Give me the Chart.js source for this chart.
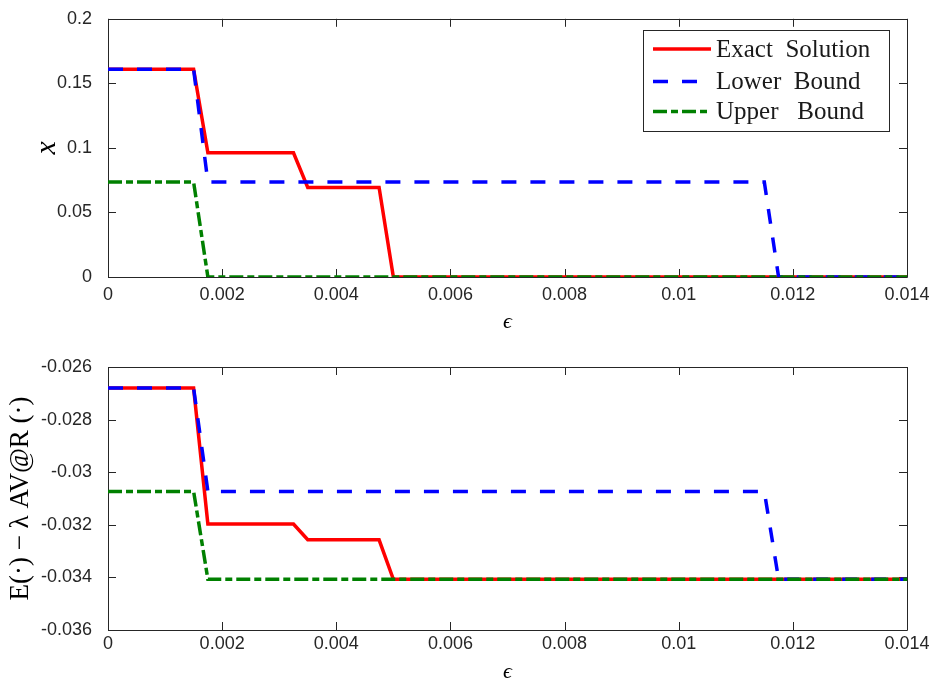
<!DOCTYPE html>
<html lang="en">
<head>
  <meta charset="UTF-8">
  <title>Exact solution and bounds vs epsilon</title>
  <script src="https://cdn.jsdelivr.net/npm/chart.js"></script>
  <style>
    body { margin: 0; background: #fff; }
    canvas { display: block; }
  </style>
</head>
<body>

<canvas id="xChart" width="937" height="342"></canvas>
<canvas id="objChart" width="937" height="342"></canvas>

<script>
// series names (legend)
const seriesNames = ['Exact  Solution', 'Lower  Bound', 'Upper   Bound'];

// epsilon breakpoints of each curve
const epsExact = [0, 0.0015, 0.00175, 0.00325, 0.0035, 0.00475, 0.005, 0.014];
const epsLower = [0, 0.0015, 0.00175, 0.0115, 0.01175, 0.014];
const epsUpper = [0, 0.0015, 0.00175, 0.014];

// top panel: x
const xExact = [0.161, 0.161, 0.0962, 0.0962, 0.0693, 0.0693, 0, 0];
const xLower = [0.161, 0.161, 0.0735, 0.0735, 0, 0];
const xUpper = [0.0735, 0.0735, 0, 0];

// bottom panel: E(.) - lambda AV@R(.)
const objExact = [-0.0268, -0.0268, -0.03197, -0.03197, -0.03257, -0.03257, -0.03407, -0.03407];
const objLower = [-0.0268, -0.0268, -0.03073, -0.03073, -0.03407, -0.03407];
const objUpper = [-0.03073, -0.03073, -0.03407, -0.03407];

// ticks
const epsTicks = [0, 0.002, 0.004, 0.006, 0.008, 0.01, 0.012, 0.014];
const epsTickLabels = ['0', '0.002', '0.004', '0.006', '0.008', '0.01', '0.012', '0.014'];
const xTicks = [0, 0.05, 0.1, 0.15, 0.2];
const xTickLabels = ['0', '0.05', '0.1', '0.15', '0.2'];
const objTicks = [-0.036, -0.034, -0.032, -0.03, -0.028, -0.026];
const objTickLabels = ['-0.036', '-0.034', '-0.032', '-0.03', '-0.028', '-0.026'];

const colors = ['#ff0000', '#0000ff', '#008000'];
const dashes = [[], [15, 14], [14, 4, 7, 4]];
const widths = [3.5, 3.5, 3.5];
const axisColor = '#262626';

function pts(xs, ys) {
  return xs.map((v, i) => ({ x: v, y: ys[i] }));
}

function makeDatasets(exact, lower, upper) {
  const sets = [pts(epsExact, exact), pts(epsLower, lower), pts(epsUpper, upper)];
  return sets.map((d, i) => ({
    label: seriesNames[i],
    data: d,
    borderColor: colors[i],
    borderWidth: widths[i],
    borderDash: dashes[i],
    showLine: true,
    pointRadius: 0,
    tension: 0,
    order: 3 - i   // red underneath, green on top
  }));
}

// MATLAB style box with inward ticks on all four sides
const boxPlugin = {
  id: 'matlabBox',
  beforeDatasetsDraw(chart) {
    const { ctx, chartArea: a, scales: { x, y } } = chart;
    const len = 8;
    ctx.save();
    ctx.strokeStyle = axisColor;
    ctx.lineWidth = 1;
    ctx.beginPath();
    ctx.rect(Math.round(a.left) + 0.5, Math.round(a.top) + 0.5,
             Math.round(a.width), Math.round(a.height));
    x.ticks.forEach(t => {
      const px = Math.round(x.getPixelForValue(t.value)) + 0.5;
      ctx.moveTo(px, a.bottom); ctx.lineTo(px, a.bottom - len);
      ctx.moveTo(px, a.top); ctx.lineTo(px, a.top + len);
    });
    y.ticks.forEach(t => {
      const py = Math.round(y.getPixelForValue(t.value)) + 0.5;
      ctx.moveTo(a.left, py); ctx.lineTo(a.left + len, py);
      ctx.moveTo(a.right, py); ctx.lineTo(a.right - len, py);
    });
    ctx.stroke();
    ctx.restore();
  }
};

// legend box in the top panel
const legendPlugin = {
  id: 'matlabLegend',
  afterDraw(chart) {
    if (!chart.options.plugins.matlabLegend) return;
    const ctx = chart.ctx;
    const bx = 643, by = 30, bw = 246, bh = 101;
    const rows = [49, 81.5, 111.5];
    ctx.save();
    ctx.fillStyle = '#fff';
    ctx.fillRect(bx, by, bw, bh);
    ctx.strokeStyle = axisColor;
    ctx.lineWidth = 1;
    ctx.strokeRect(bx + 0.5, by + 0.5, bw, bh);
    chart.data.datasets.forEach((ds, i) => {
      ctx.beginPath();
      ctx.strokeStyle = ds.borderColor;
      ctx.lineWidth = ds.borderWidth;
      ctx.setLineDash(ds.borderDash);
      ctx.moveTo(653, rows[i]);
      ctx.lineTo(711, rows[i]);
      ctx.stroke();
      ctx.setLineDash([]);
      ctx.fillStyle = '#1a1a1a';
      ctx.font = '25px "Liberation Serif", "Times New Roman", serif';
      ctx.textBaseline = 'middle';
      ctx.textAlign = 'left';
      ctx.fillText(ds.label, 716, rows[i] + 1);
    });
    ctx.restore();
  }
};

function makeChart(id, datasets, yMin, yMax, yTicks, yLabels, opts) {
  const tickFont = { family: '"Liberation Sans", Arial, sans-serif', size: 18 };
  return new Chart(document.getElementById(id), {
    type: 'scatter',
    data: { datasets: datasets },
    options: {
      responsive: false,
      animation: false,
      layout: { padding: { left: 0, right: 30, top: opts.top, bottom: 0 } },
      scales: {
        x: {
          type: 'linear',
          min: 0,
          max: 0.014,
          afterBuildTicks: s => { s.ticks = epsTicks.map(v => ({ value: v })); },
          afterFit: s => { s.height = opts.xHeight; },
          ticks: {
            autoSkip: false,
            maxRotation: 0,
            padding: opts.xTickPad,
            color: axisColor,
            font: tickFont,
            callback: (v, i) => epsTickLabels[i]
          },
          grid: { display: false },
          border: { display: false },
          title: {
            display: true,
            text: 'ϵ',
            color: '#000',
            font: { family: '"Liberation Serif", "DejaVu Serif", serif', style: 'italic', size: 22, lineHeight: 1 },
            padding: { top: 0, bottom: opts.xTitlePad }
          }
        },
        y: {
          type: 'linear',
          min: yMin,
          max: yMax,
          afterBuildTicks: s => { s.ticks = yTicks.map(v => ({ value: v })); },
          afterFit: s => { s.width = 108; },
          ticks: {
            autoSkip: false,
            padding: 8,
            color: axisColor,
            font: tickFont,
            callback: (v, i) => yLabels[i]
          },
          grid: { display: false },
          border: { display: false },
          title: {
            display: true,
            text: opts.yTitle,
            color: '#000',
            font: opts.yTitleFont,
            padding: { top: opts.yTitlePad, bottom: 0 }
          }
        }
      },
      plugins: {
        legend: { display: false },
        tooltip: { enabled: false },
        matlabLegend: opts.legend
      }
    },
    plugins: [boxPlugin, legendPlugin]
  });
}

makeChart('xChart', makeDatasets(xExact, xLower, xUpper), 0, 0.2, xTicks, xTickLabels, {
  top: 13, xHeight: 65, xTickPad: -1, xTitlePad: 9,
  yTitle: 'x',
  yTitleFont: { family: '"Liberation Serif", serif', style: 'italic', size: 30, lineHeight: 1 },
  yTitlePad: 32,
  legend: true
});

makeChart('objChart', makeDatasets(objExact, objLower, objUpper), -0.036, -0.026, objTicks, objTickLabels, {
  top: 25, xHeight: 54, xTickPad: -5, xTitlePad: 1,
  yTitle: 'E(·) − λ AV@R (·)',
  yTitleFont: { family: '"Liberation Serif", serif', size: 27, lineHeight: 1 },
  yTitlePad: 7,
  legend: false
});
</script>

</body>
</html>
